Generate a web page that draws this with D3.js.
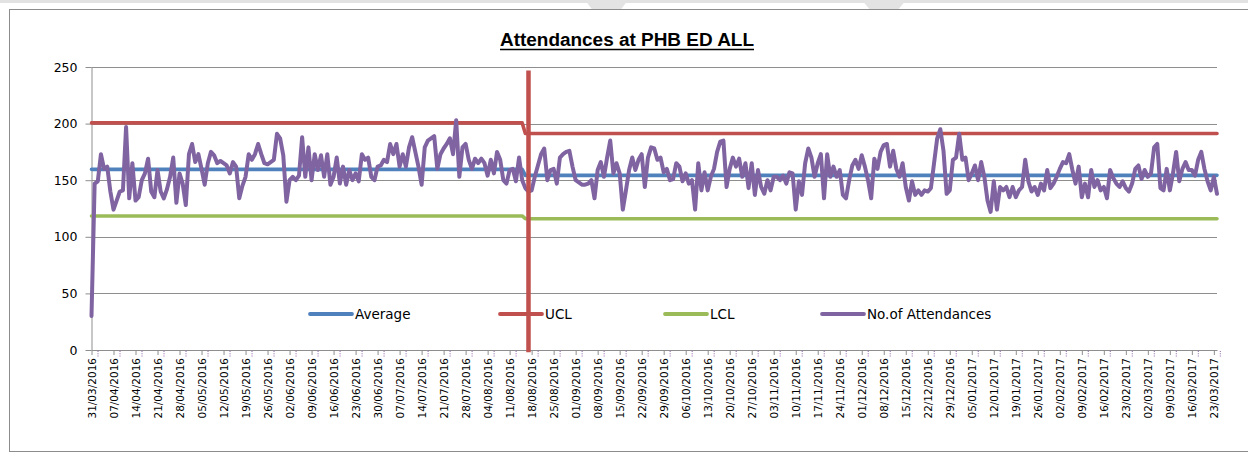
<!DOCTYPE html>
<html>
<head>
<meta charset="utf-8">
<script src="https://cdn.jsdelivr.net/npm/d3@7"></script>
<style>
  body { margin: 0; background: #fff; }
  svg { display: block; }
</style>
</head>
<body>
<script>
// daily attendances, 31/03/2016 onwards (one row per week)
var attendances = [
  30,147,149,173,160,162,140,
  124,132,140,141,197,134,165,
  132,135,150,156,169,140,135,
  159,140,134,142,153,170,130,
  156,147,128,173,182,166,173,
  160,146,165,175,172,165,167,
  165,163,156,166,162,134,145,
  153,173,168,173,182,173,165,
  164,166,168,191,187,172,131,
  150,153,150,154,188,153,179,
  150,173,159,172,153,173,146,
  153,170,147,162,146,159,150,
  156,149,173,168,170,153,150,
  162,163,168,166,182,173,182,
  162,173,162,179,188,175,162,
  146,179,185,187,189,160,173,
  178,182,187,173,203,153,179,
  182,168,160,169,165,169,165,
  154,168,156,175,168,150,147,
  159,160,149,170,150,143,140,
  141,153,163,173,178,150,159,
  160,147,170,173,175,176,162,
  150,148,146,146,147,150,134,
  159,166,153,170,185,156,165,
  156,124,141,159,170,159,168,
  173,144,170,179,178,168,170,
  157,160,150,151,165,162,149,
  156,147,150,124,165,141,157,
  141,153,160,175,184,185,144,
  160,170,162,169,153,165,143,
  165,137,159,144,138,150,141,
  153,153,150,154,147,157,156,
  124,149,137,165,178,170,153,
  165,173,134,173,153,162,153,
  159,137,134,150,163,168,160,
  172,162,150,134,169,160,175,
  181,182,162,176,160,153,165,
  144,132,149,137,141,137,141,
  140,143,165,187,195,176,138,
  141,168,170,191,168,170,150,
  156,163,150,166,153,132,122,
  149,124,144,141,144,135,144,
  135,141,144,168,149,140,144,
  137,147,141,159,143,147,153,
  160,166,165,173,159,147,162,
  135,147,135,159,144,150,141,
  144,134,159,152,147,144,149,
  143,140,147,160,163,151,159,
  153,156,179,182,143,141,160,
  141,156,175,149,160,166,159,
  159,154,168,175,160,149,141,
  153,138
];

// control limits, before and after the process change
var phaseStart = [0, 138];
var averageByPhase = [159.6, 154.3];
var uclByPhase = [200.6, 191.3];
var lclByPhase = [118.4, 116.0];
var changeIndex = 139;

var startDate = new Date(2016, 2, 31);
var labelEvery = 7;
var yTicks = [0, 50, 100, 150, 200, 250];
var title = "Attendances at PHB ED ALL";

var seriesNames = ["Average", "UCL", "LCL", "No.of Attendances"];
var colors = {
  "Average": "#4f81bd",
  "UCL": "#c0504d",
  "LCL": "#9bbb59",
  "No.of Attendances": "#8064a2"
};

var dates = attendances.map(function (d, i) { return d3.timeDay.offset(startDate, i); });
var fmt = d3.timeFormat("%d/%m/%Y");

function phaseOf(i) { return i >= phaseStart[1] ? 1 : 0; }
var series = {
  "Average": attendances.map(function (d, i) { return averageByPhase[phaseOf(i)]; }),
  "UCL": attendances.map(function (d, i) { return uclByPhase[phaseOf(i)]; }),
  "LCL": attendances.map(function (d, i) { return lclByPhase[phaseOf(i)]; }),
  "No.of Attendances": attendances
};

var width = 1248, height = 455;
var svg = d3.select("body").append("svg")
  .attr("width", width)
  .attr("height", height);

// screenshot frame bits
svg.append("line").attr("x1", 0).attr("x2", width).attr("y1", 1.5).attr("y2", 1.5)
  .attr("stroke", "#e2e2e2").attr("stroke-width", 3);
svg.append("polygon").attr("points", "585,0 628,0 616,16 597,16").attr("fill", "#e3e3e3");
svg.append("polygon").attr("points", "862,0 906,0 893,16 875,16").attr("fill", "#e3e3e3");
svg.append("rect")
  .attr("x", 9.5).attr("y", 9.5).attr("width", 1260).attr("height", 442)
  .attr("fill", "#fff").attr("stroke", "#8c8c8c").attr("stroke-width", 1);

var x = d3.scaleLinear().domain([0, attendances.length - 1]).range([91.5, 1217]);
var y = d3.scaleLinear().domain([0, 250]).range([350, 67]);

// gridlines
svg.append("g").selectAll("line")
  .data(yTicks.filter(function (t) { return t > 0; }))
  .enter().append("line")
  .attr("x1", x.range()[0]).attr("x2", x.range()[1])
  .attr("y1", function (d) { return Math.round(y(d)) + 0.5; })
  .attr("y2", function (d) { return Math.round(y(d)) + 0.5; })
  .attr("stroke", "#8e8e8e").attr("stroke-width", 1);

// y axis
var yAxis = svg.append("g")
  .attr("transform", "translate(" + x.range()[0] + ",0)")
  .call(d3.axisLeft(y).tickValues(yTicks).tickSizeInner(6).tickSizeOuter(0).tickPadding(8));
yAxis.select(".domain").attr("stroke", "#8e8e8e");
yAxis.selectAll(".tick line").attr("stroke", "#8e8e8e");
yAxis.selectAll("text")
  .attr("fill", "#000")
  .style("font-family", "'DejaVu Sans', Verdana, sans-serif")
  .style("font-size", "12.5px");

// x axis
var tickIdx = d3.range(0, attendances.length, labelEvery);
var xAxis = svg.append("g")
  .attr("transform", "translate(0," + y(0) + ")")
  .call(d3.axisBottom(x).tickValues(tickIdx).tickSizeInner(5).tickSizeOuter(0)
    .tickFormat(function (i) { return fmt(dates[i]); }));
xAxis.select(".domain").attr("stroke", "#8e8e8e");
xAxis.selectAll(".tick line").attr("stroke", "#8e8e8e");
xAxis.selectAll(".tick").append("line")
  .attr("x1", 6).attr("x2", 6).attr("y1", 1).attr("y2", 7)
  .attr("stroke", "#a27bb8").attr("stroke-width", 1.2)
  .attr("stroke-dasharray", "1,1.2");
xAxis.selectAll("text")
  .attr("fill", "#000")
  .attr("transform", "rotate(-90)")
  .attr("x", -8).attr("y", 0).attr("dy", "0.35em")
  .style("text-anchor", "end")
  .style("font-family", "'DejaVu Sans', Verdana, sans-serif")
  .style("font-size", "10.5px");

// series
var line = d3.line()
  .x(function (d, i) { return x(i); })
  .y(function (d) { return y(d); });

seriesNames.forEach(function (name) {
  svg.append("path")
    .datum(series[name])
    .attr("d", line)
    .attr("fill", "none")
    .attr("stroke", colors[name])
    .attr("stroke-width", name === "No.of Attendances" ? 4 : 3.6)
    .attr("stroke-linejoin", "round")
    .attr("stroke-linecap", "round");
});

// legend
var legendX = [310, 500, 665, 822];
var legend = svg.append("g").attr("transform", "translate(0,314)");
seriesNames.forEach(function (name, k) {
  legend.append("line")
    .attr("x1", legendX[k]).attr("x2", legendX[k] + 42)
    .attr("stroke", colors[name]).attr("stroke-width", 3.8)
    .attr("stroke-linecap", "round");
  legend.append("text")
    .attr("x", legendX[k] + 45).attr("y", 0).attr("dy", "0.35em")
    .style("font-family", "'DejaVu Sans', Verdana, sans-serif")
    .style("font-size", "13.5px")
    .text(name);
});

// process change marker
svg.append("line")
  .attr("x1", x(changeIndex)).attr("x2", x(changeIndex))
  .attr("y1", y(247)).attr("y2", y(-2))
  .attr("stroke", "#c0504d").attr("stroke-width", 4.5);

// title
svg.append("text")
  .attr("x", 627).attr("y", 46)
  .attr("text-anchor", "middle")
  .attr("textLength", 254).attr("lengthAdjust", "spacingAndGlyphs")
  .style("font-family", "'Liberation Sans Narrow', 'Liberation Sans', Arial, sans-serif")
  .style("font-weight", "bold")
  .style("font-size", "18px")
  .text(title);
svg.append("line")
  .attr("x1", 500).attr("x2", 754).attr("y1", 49.5).attr("y2", 49.5)
  .attr("stroke", "#000").attr("stroke-width", 1.6);
</script>
</body>
</html>
